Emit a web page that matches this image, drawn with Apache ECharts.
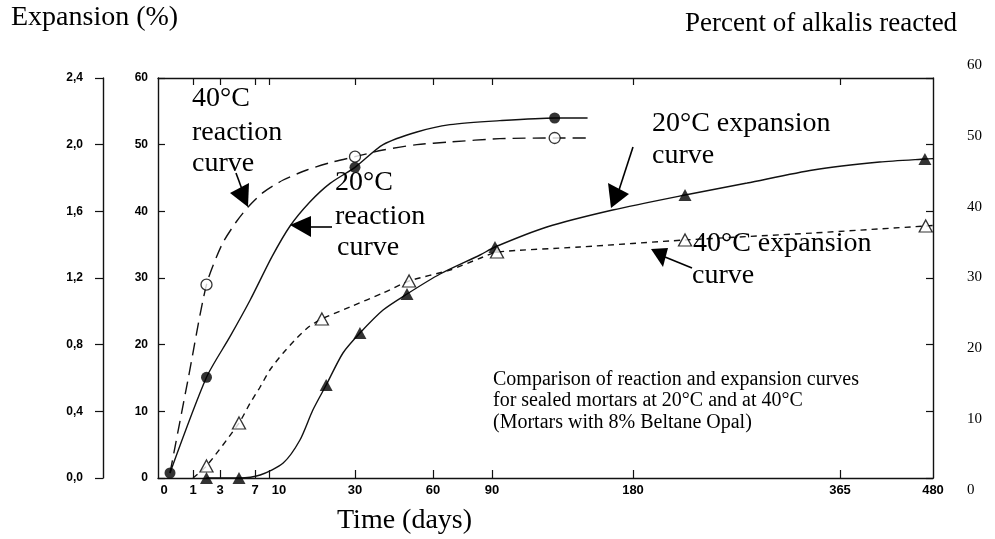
<!DOCTYPE html>
<html>
<head>
<meta charset="utf-8">
<script src="https://cdn.jsdelivr.net/npm/echarts@6/dist/echarts.min.js"></script>
<style>
html,body{margin:0;padding:0;background:#fff;}
#chart{width:995px;height:539px;}
</style>
</head>
<body>
<div id="chart"></div>
<script>
// ---- Axis definition (non-linear time scale of the original figure) ----
const DAY_KNOTS   = [0, 1, 3, 5, 7, 10, 30, 60, 90, 180, 365, 480];
const KNOT_UNITS  = [12, 35, 62, 81, 97, 111, 197, 275, 334, 475, 682, 775];
const X_LABEL_DAYS = [0, 1, 3, 7, 10, 30, 60, 90, 180, 365, 480];
const X_TICK_LABELS = ['0', '1', '3', '7', '10', '30', '60', '90', '180', '365', '480'];
const X_TICK_DAYS = [1, 3, 7, 10, 30, 60, 90, 180, 365];

// ---- Data: [day, value] ----
// 20°C reaction curve (percent of alkalis reacted)
const R20_CURVE = [[0,0.75],[2,15.1],[4.05,21.2],[6.4,26.7],[10.7,33.2],[14.9,37.8],[19.5,41.4],[24.2,44.2],[30,46.6],[40.8,50.0],[53.8,51.9],[68.6,53.0],[95,53.6],[130,54.0],[151,54.0]];
const R20_MARKS = [[0,0.75],[2,15.1],[30,46.6],[130,54.0]];
// 40°C reaction curve
const R40_CURVE = [[0,0.75],[0.78,14.7],[2,29.0],[3.2,35.0],[4.7,38.4],[6.25,40.8],[8.7,42.8],[13.3,44.7],[18.8,46.2],[24.2,47.3],[30,48.2],[40.8,49.2],[53.8,50.0],[68.6,50.4],[95,50.9],[130,51.0],[151,51.0]];
const R40_MARKS = [[2,29.0],[30,48.2],[130,51.0]];
// 20°C expansion curve (expansion %)
const E20_CURVE = [[2,0],[5,0],[8.1,0.018],[13.3,0.09],[17.2,0.228],[20.2,0.408],[23.3,0.558],[27.2,0.75],[31.9,0.87],[40.8,1.008],[50,1.104],[63.6,1.224],[83.9,1.338],[91.9,1.386],[125,1.506],[167,1.608],[226.5,1.698],[282,1.77],[341,1.848],[414,1.896],[470,1.914],[480,1.916]];
const E20_MARKS = [[2,0],[5,0],[23.3,0.558],[31.9,0.87],[50,1.104],[91.9,1.386],[226.5,1.698],[470,1.914]];
// 40°C expansion curve
const E40_CURVE = [[1,0],[2,0.072],[5,0.33],[6.4,0.45],[8.1,0.546],[10.2,0.648],[13.3,0.75],[16.5,0.84],[19.5,0.912],[22.3,0.954],[28.8,1.026],[40.8,1.11],[50.8,1.182],[68.6,1.248],[85.4,1.326],[93.2,1.356],[146,1.386],[226.5,1.428],[341,1.47],[471,1.512],[480,1.515]];
const E40_MARKS = [[2,0.072],[5,0.33],[22.3,0.954],[50.8,1.182],[93.2,1.356],[226.5,1.428],[471,1.512]];

function dayToUnit(d) {
  for (let i = 0; i < DAY_KNOTS.length - 1; i++) {
    const d0 = DAY_KNOTS[i], d1 = DAY_KNOTS[i + 1];
    if (d <= d1 || i === DAY_KNOTS.length - 2) {
      const t = (d - d0) / (d1 - d0);
      return KNOT_UNITS[i] + t * (KNOT_UNITS[i + 1] - KNOT_UNITS[i]);
    }
  }
}
const conv = arr => arr.map(p => [dayToUnit(p[0]), p[1]]);
const labelUnits = X_LABEL_DAYS.map(dayToUnit);
const tickUnits = X_TICK_DAYS.map(dayToUnit);

const INK = '#111';
const SERIF = '"Liberation Serif", "Times New Roman", serif';
const SANS = '"Liberation Sans", Arial, sans-serif';

function txt(x, y, s, size) {
  return { type: 'text', x: x, y: y, z: 50,
    style: { text: s, fontFamily: SERIF, fontSize: size, fill: '#000',
      textVerticalAlign: 'middle', verticalAlign: 'middle', textAlign: 'left', align: 'left' } };
}
function poly(points) {
  return { type: 'polygon', z: 50, shape: { points: points }, style: { fill: '#000' } };
}
function seg(points) {
  return { type: 'polyline', z: 50, shape: { points: points }, style: { stroke: '#000', lineWidth: 1.6, fill: null } };
}

const chart = echarts.init(document.getElementById('chart'), null, { renderer: 'canvas' });

const lineBase = { type: 'line', showSymbol: false, symbol: 'none', smooth: 0.25, xAxisIndex: 0, animation: false, silent: true, clip: false };
const markBase = { type: 'scatter', xAxisIndex: 0, animation: false, silent: true, clip: false, z: 5 };
const xLabelFont = { fontFamily: SANS, fontSize: 13, fontWeight: 'bold', color: '#000' };

const option = {
  animation: false,
  backgroundColor: '#fff',
  grid: [
    { left: 158, right: 62, top: 78, bottom: 61 },
    { left: 955, right: 30, top: 65, bottom: 49 }
  ],
  xAxis: [
    { gridIndex: 0, type: 'value', min: 0, max: 775, position: 'bottom',
      axisLine: { show: true, onZero: false, lineStyle: { color: INK, width: 1.4 } },
      axisTick: { show: true, inside: true, length: 8, customValues: tickUnits, lineStyle: { color: INK, width: 1.2 } },
      axisLabel: Object.assign({ show: true, customValues: labelUnits, margin: 6,
        formatter: v => {
          const i = labelUnits.indexOf(v);
          if (i < 0) return '';
          const s = X_TICK_LABELS[i];
          if (i === 0) return '{l|' + s + '}';
          if (i === 4) return '{r|' + s + '}';
          return s;
        },
        rich: {
          l: Object.assign({ padding: [0, 12, 0, 0] }, xLabelFont),
          r: Object.assign({ padding: [0, 0, 0, 20] }, xLabelFont)
        } }, xLabelFont),
      splitLine: { show: false } },
    { gridIndex: 0, type: 'value', min: 0, max: 775, position: 'top',
      axisLine: { show: true, onZero: false, lineStyle: { color: INK, width: 1.4 } },
      axisTick: { show: true, inside: true, length: 7, customValues: tickUnits, lineStyle: { color: INK, width: 1.2 } },
      axisLabel: { show: false }, splitLine: { show: false } },
    { gridIndex: 1, type: 'value', min: 0, max: 1, show: false }
  ],
  yAxis: [
    { gridIndex: 0, type: 'value', min: 0, max: 60, interval: 10, position: 'left',
      axisLine: { show: true, onZero: false, lineStyle: { color: INK, width: 1.4 } },
      axisTick: { show: true, inside: true, length: 7, lineStyle: { color: INK, width: 1.2 } },
      axisLabel: { margin: 10, fontFamily: SANS, fontSize: 12, fontWeight: 'bold', color: '#000' },
      splitLine: { show: false } },
    { gridIndex: 0, type: 'value', min: 0, max: 2.4, interval: 0.4, position: 'left', offset: 55,
      axisLine: { show: true, onZero: false, lineStyle: { color: INK, width: 1.4 } },
      axisTick: { show: true, inside: false, length: 8, lineStyle: { color: INK, width: 1.2 } },
      axisLabel: { margin: 20, fontFamily: SANS, fontSize: 12, fontWeight: 'bold', color: '#000',
        formatter: v => v.toFixed(1).replace('.', ',') },
      splitLine: { show: false } },
    { gridIndex: 0, type: 'value', min: 0, max: 60, interval: 10, position: 'right',
      axisLine: { show: true, onZero: false, lineStyle: { color: INK, width: 1.4 } },
      axisTick: { show: true, inside: true, length: 7, lineStyle: { color: INK, width: 1.2 } },
      axisLabel: { show: false }, splitLine: { show: false } },
    { gridIndex: 1, type: 'value', min: 0, max: 60, interval: 10, position: 'right',
      axisLine: { show: false }, axisTick: { show: false },
      axisLabel: { margin: 2, fontFamily: SERIF, fontSize: 15, color: '#000' },
      splitLine: { show: false } }
  ],
  series: [
    Object.assign({}, lineBase, { name: '20°C reaction', yAxisIndex: 0, data: conv(R20_CURVE),
      lineStyle: { color: INK, width: 1.4, type: 'solid' } }),
    Object.assign({}, lineBase, { name: '40°C reaction', yAxisIndex: 0, data: conv(R40_CURVE),
      lineStyle: { color: INK, width: 1.4, type: [13, 7] } }),
    Object.assign({}, lineBase, { name: '20°C expansion', yAxisIndex: 1, data: conv(E20_CURVE),
      lineStyle: { color: INK, width: 1.4, type: 'solid' } }),
    Object.assign({}, lineBase, { name: '40°C expansion', yAxisIndex: 1, data: conv(E40_CURVE),
      lineStyle: { color: INK, width: 1.4, type: [6, 5] } }),
    Object.assign({}, markBase, { yAxisIndex: 0, data: conv(R20_MARKS), symbol: 'circle', symbolSize: 11,
      itemStyle: { color: '#000' } }),
    Object.assign({}, markBase, { yAxisIndex: 0, data: conv(R40_MARKS), symbol: 'circle', symbolSize: 11,
      itemStyle: { color: '#fff', borderColor: '#000', borderWidth: 1.3 } }),
    Object.assign({}, markBase, { yAxisIndex: 1, data: conv(E20_MARKS), symbol: 'triangle', symbolSize: [13, 12],
      itemStyle: { color: '#000' } }),
    Object.assign({}, markBase, { yAxisIndex: 1, data: conv(E40_MARKS), symbol: 'triangle', symbolSize: [13, 12],
      itemStyle: { color: '#fff', borderColor: '#000', borderWidth: 1.3 } })
  ],
  graphic: [
    txt(11, 18, 'Expansion (%)', 28),
    txt(685, 24, 'Percent of alkalis reacted', 27),
    txt(337, 520.5, 'Time (days)', 28),
    txt(192, 98.5, '40°C', 28),
    txt(192, 132.5, 'reaction', 28),
    txt(192, 163.5, 'curve', 28),
    txt(335, 182.5, '20°C', 28),
    txt(335, 216.5, 'reaction', 28),
    txt(337, 247.5, 'curve', 28),
    txt(652, 123.5, '20°C expansion', 28),
    txt(652, 155.5, 'curve', 28),
    txt(693, 243.5, '40°C expansion', 28),
    txt(692, 275.5, 'curve', 28),
    txt(493, 380, 'Comparison of reaction and expansion curves', 20),
    txt(493, 401, 'for sealed mortars at 20°C and at 40°C', 20),
    txt(493, 423, '(Mortars with 8% Beltane Opal)', 20),
    // arrows
    seg([[236, 173], [243, 192]]),
    poly([[230, 193], [249, 183], [248, 207]]),
    seg([[332, 227], [309, 227]]),
    poly([[290, 225], [311, 216], [311, 237]]),
    seg([[633, 147], [619, 190]]),
    poly([[608, 183], [629, 194], [611, 208]]),
    seg([[692, 268], [665, 257]]),
    poly([[651, 249], [668, 248], [663, 267]])
  ]
};
chart.setOption(option);
</script>
</body>
</html>
